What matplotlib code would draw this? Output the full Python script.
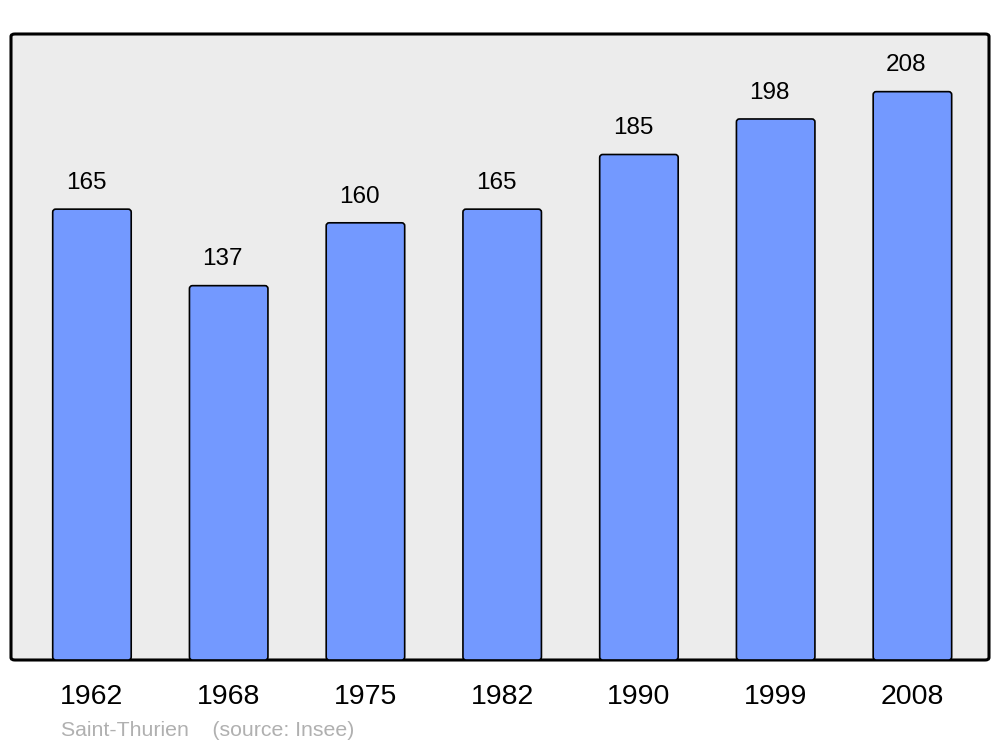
import matplotlib
matplotlib.use("Agg")
import matplotlib.pyplot as plt
from matplotlib.patches import FancyBboxPatch

years = ["1962", "1968", "1975", "1982", "1990", "1999", "2008"]
population = [165, 137, 160, 165, 185, 198, 208]

plt.rcParams['font.family'] = ['Liberation Sans', 'DejaVu Sans']

fig = plt.figure(figsize=(10, 7.47), dpi=100)
ax = fig.add_axes([0.011, 1 - 660 / 747, 0.978, 626 / 747])
ax.set_facecolor('none')

# rounded background frame
frame = FancyBboxPatch((0, 0), 1, 1, boxstyle='round,pad=0,rounding_size=0.004',
                       transform=ax.transAxes, facecolor='#ececec', edgecolor='black',
                       linewidth=2.2, zorder=0, clip_on=False)
ax.add_patch(frame)

x = list(range(len(years)))
for xi, v in zip(x, population):
    bar = FancyBboxPatch((xi - 0.287, 0), 0.574, v,
                         boxstyle='round,pad=0,rounding_size=0.022',
                         mutation_aspect=50,
                         facecolor='#7399ff', edgecolor='black', linewidth=1.2, zorder=2)
    ax.add_patch(bar)
    ax.text(xi - 0.044, v + 9.6, str(v), ha='center', va='center', fontsize=17.5, zorder=3)

ax.set_xlim(-0.592, 6.56)
ax.set_ylim(0, 229.1)
ax.set_xticks(x)
ax.set_xticklabels(years, fontsize=20.5)
ax.tick_params(axis='x', length=0, pad=17.5)
ax.set_yticks([])
for s in ax.spines.values():
    s.set_visible(False)

fig.text(0.061, 1 - 731 / 747, "Saint-Thurien    (source: Insee)", fontsize=15.3,
         color='#b0b0b0', ha='left', va='center')

fig.savefig('out.png', dpi=100)
